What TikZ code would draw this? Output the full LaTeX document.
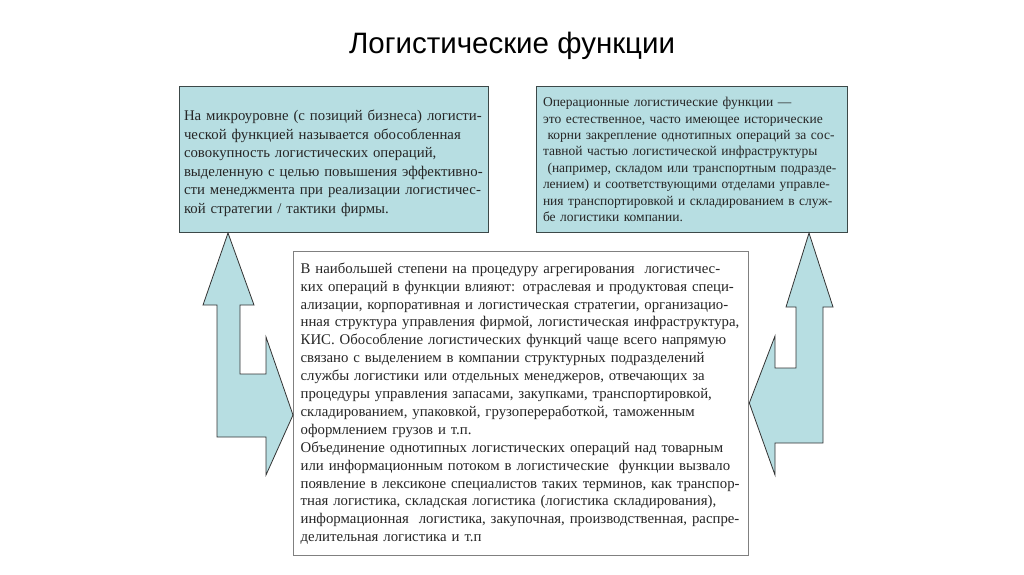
\documentclass[tikz,border=0pt]{standalone}
\usepackage{fontspec}
\setmainfont{Liberation Serif}
\newfontfamily\titlefont{Liberation Sans}
\definecolor{tealfill}{RGB}{183,222,226}
\definecolor{framegray}{RGB}{60,72,72}

\begin{document}
\begin{tikzpicture}[
x=1pt, y=-1pt, % one unit = one pixel of the slide
every node/.style={inner sep=0pt},
infobox/.style={draw=framegray, line width=1pt, anchor=north west,
  align=left, text=black!85},
shapearrow/.style={draw=black!80, fill=tealfill, line width=0.8pt, line join=miter}
]

\useasboundingbox (0,0) rectangle (1024,574);

% ================= Title =================
\node (title) at (512,46) {\titlefont\fontsize{29.5}{34}\selectfont Логистические функции};

% ================= Boxes =================
% Left box: micro level
\node[infobox, fill=tealfill, minimum width=309pt, minimum height=146pt,
  text width=300pt, font=\fontsize{14.8}{18.5}\selectfont] (micro) at (179,86)
{\rule{0pt}{18pt}На микроуровне (с позиций бизнеса) логисти-\\
ческой функцией называется обособленная\\
совокупность логистических операций,\\
выделенную с целью повышения эффективно-\\
сти менеджмента при реализации логистичес-\\
кой стратегии / тактики фирмы.};

% Right box: operational functions
\node[infobox, fill=tealfill, minimum width=311pt, minimum height=146pt,
  text width=298pt, font=\fontsize{13.5}{16.4}\selectfont] (oper) at (536,86)
{Операционные логистические функции ---\\
это естественное, часто имеющее исторические\\
\ корни закрепление однотипных операций за сос-\\
тавной частью логистической инфраструктуры\\
\ (например, складом или транспортным подразде-\\
лением) и соответствующими отделами управле-\\
ния транспортировкой и складированием в служ-\\
бе логистики компании.};

% Centre box: aggregation
\node[infobox, draw=black!50, line width=1.3pt, fill=white, minimum width=455pt,
  minimum height=304pt, text width=441pt, font=\fontsize{14.8}{17.9}\selectfont]
  (aggr) at (293,251)
{В наибольшей степени на процедуру агрегирования\ \ логистичес-\\
ких операций в функции влияют: отраслевая и продуктовая специ-\\
ализации, корпоративная и логистическая стратегии, организацио-\\
нная структура управления фирмой, логистическая инфраструктура,\\
КИС. Обособление логистических функций чаще всего напрямую\\
связано с выделением в компании структурных подразделений\\
службы логистики или отдельных менеджеров, отвечающих за\\
процедуры управления запасами, закупками, транспортировкой,\\
складированием, упаковкой, грузопереработкой, таможенным\\
оформлением грузов и т.п.\\
Объединение однотипных логистических операций над товарным\\
или информационным потоком в логистические\ \ функции вызвало\\
появление в лексиконе специалистов таких терминов, как транспор-\\
тная логистика, складская логистика (логистика складирования),\\
информационная\ \ логистика, закупочная, производственная, распре-\\
делительная логистика и т.п};

% ================= Arrows =================
% Left double arrow: up to the micro box, right to the centre box
\draw[shapearrow] (micro.south -| 228,0) -- (254,305) -- (240,305) -- (240,374)
  -- (266,374) -- (266,337) -- (aggr.west |- 0,415) -- (266,475) -- (266,437)
  -- (217,437) -- (217,305) -- (203,305) -- cycle;

% Right double arrow: up to the operational box, left to the centre box
\draw[shapearrow] (oper.south -| 809,0) -- (833,307) -- (823,307) -- (823,443)
  -- (775,443) -- (775,475) -- (aggr.east |- 0,403) -- (775,336) -- (775,368)
  -- (796,368) -- (796,307) -- (786,307) -- cycle;

\end{tikzpicture}
\end{document}
